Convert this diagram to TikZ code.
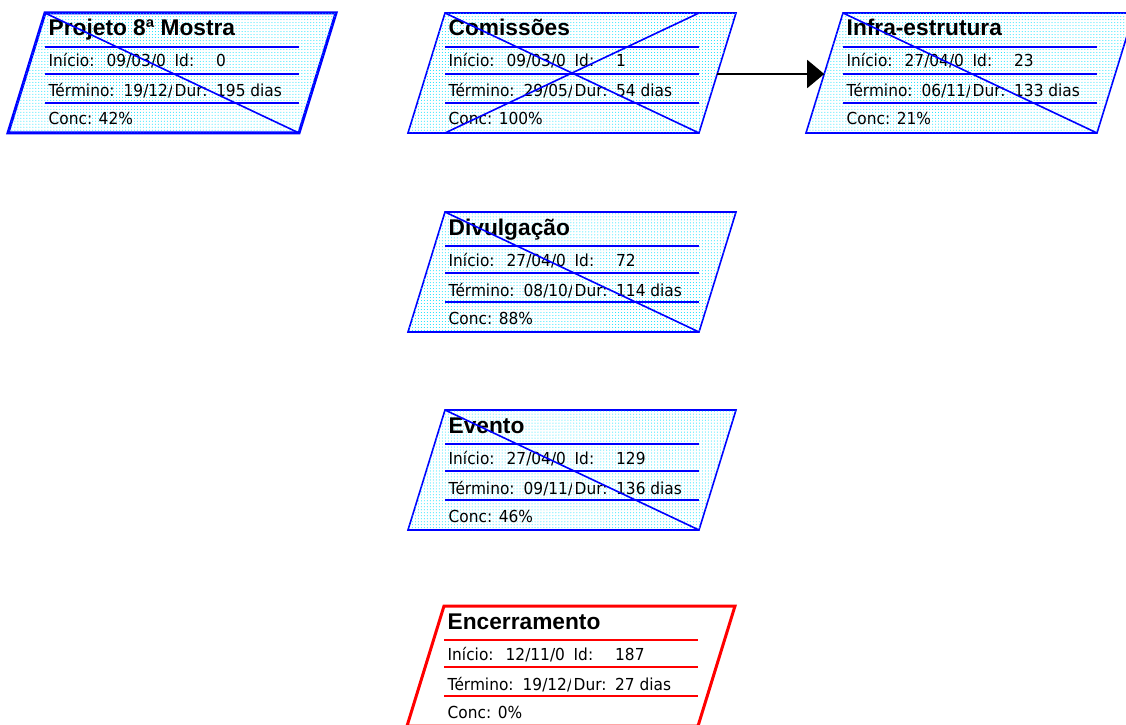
\documentclass[tikz,border=0pt]{standalone}
\usepackage{fontspec}
\setmainfont{Liberation Sans}
\newfontfamily\rowfont[FakeStretch=0.93]{DejaVu Sans}
\usetikzlibrary{arrows.meta,patterns}

\definecolor{taskblue}{RGB}{0,0,255}
\definecolor{taskred}{RGB}{255,0,0}
\definecolor{dotcyan}{RGB}{0,225,255}

\tikzset{
  dotfill/.style={fill=white, postaction={pattern=dots, pattern color=dotcyan}},
  plainfill/.style={fill=white},
  boxframe/.style={line width=1.6bp, line join=miter},
  boldframe/.style={line width=3bp, line join=miter},
  rowline/.style={line width=2bp},
  crossline/.style={line width=1.6bp, draw=taskblue},
  tasktitle/.style={anchor=base west, inner sep=0pt, font=\bfseries\fontsize{22.8}{25}\selectfont},
  taskrow/.style={anchor=base west, inner sep=0pt, font=\rowfont\fontsize{16.6}{19}\selectfont},
  link/.style={line width=1.6bp, -{Triangle[length=17bp,width=28bp]}}
}

% Parallelogram frame with its three rules; origin = top-left corner
% #1 name, #2 frame style, #3 rule colour
\newcommand\taskframe[3]{%
  \draw[#2] (0,0) -- (291,0) -- (254,120) -- (-37,120) -- cycle;
  \foreach \ry in {34,61,90}
    \draw[rowline, draw=#3] (0,\ry) -- (254,\ry);
  \node[inner sep=0pt, minimum width=254bp, minimum height=120bp,
        anchor=north west] (#1) at (0,0) {};
  \coordinate (#1-in) at (-18.8,61);
  \coordinate (#1-out) at (272.2,61);
}

% Task fields: #1 name, #2 title, #3 start, #4 id, #5 finish, #6 duration, #7 complete
\newcommand\tasktext[7]{%
  \node[tasktitle] (#1-title) at (3.5,23) {#2};
  \begin{scope}
    \clip (0,36) rectangle (126,92);
    \node[taskrow] (#1-startlbl) at (3.5,54) {Início:};
    \node[taskrow] (#1-start) at (61.5,54) {#3};
    \node[taskrow] (#1-finlbl) at (3.5,84) {Término:};
    \node[taskrow] (#1-fin) at (78.5,84) {#5};
  \end{scope}
  \node[taskrow] (#1-idlbl) at (129.5,54) {Id:};
  \node[taskrow] (#1-id) at (171,54) {#4};
  \node[taskrow] (#1-durlbl) at (129.5,84) {Dur:};
  \node[taskrow] (#1-dur) at (171,84) {#6};
  \node[taskrow] (#1-conc) at (3.5,112) {Conc: #7};
}

\begin{document}
\begin{tikzpicture}[x=1bp,y=-1bp]
\useasboundingbox (0,0) rectangle (1126,725);
\clip (0,0) rectangle (1126,725);

% summary task
\begin{scope}[shift={(45,13)}]
  \taskframe{proj}{boldframe, draw=taskblue, dotfill}{taskblue}
  \tasktext{proj}{Projeto 8ª Mostra}{09/03/0}{0}{19/12/}{195 dias}{42\%}
  \draw[crossline] (0,0) -- (254,120);
\end{scope}

% Comissões (complete)
\begin{scope}[shift={(445,13)}]
  \taskframe{com}{boxframe, draw=taskblue, dotfill}{taskblue}
  \tasktext{com}{Comissões}{09/03/0}{1}{29/05/}{54 dias}{100\%}
  \draw[crossline] (0,0) -- (254,120);
  \draw[crossline] (254,0) -- (0,120);
\end{scope}

% Infra-estrutura
\begin{scope}[shift={(843,13)}]
  \taskframe{infra}{boxframe, draw=taskblue, dotfill}{taskblue}
  \tasktext{infra}{Infra-estrutura}{27/04/0}{23}{06/11/}{133 dias}{21\%}
  \draw[crossline] (0,0) -- (254,120);
\end{scope}

% Divulgação
\begin{scope}[shift={(445,212)}]
  \taskframe{div}{boxframe, draw=taskblue, dotfill}{taskblue}
  \tasktext{div}{Divulgação}{27/04/0}{72}{08/10/}{114 dias}{88\%}
  \draw[crossline] (0,0) -- (254,120);
\end{scope}

% Evento
\begin{scope}[shift={(445,410)}]
  \taskframe{evt}{boxframe, draw=taskblue, dotfill}{taskblue}
  \tasktext{evt}{Evento}{27/04/0}{129}{09/11/}{136 dias}{46\%}
  \draw[crossline] (0,0) -- (254,120);
\end{scope}

% Encerramento (critical, not started)
\begin{scope}[shift={(444,606)}]
  \taskframe{enc}{boldframe, draw=taskred, plainfill}{taskred}
  \tasktext{enc}{Encerramento}{12/11/0}{187}{19/12/}{27 dias}{0\%}
\end{scope}

% dependency
\draw[link] (com-out) -- (infra-in);
\end{tikzpicture}
\end{document}
